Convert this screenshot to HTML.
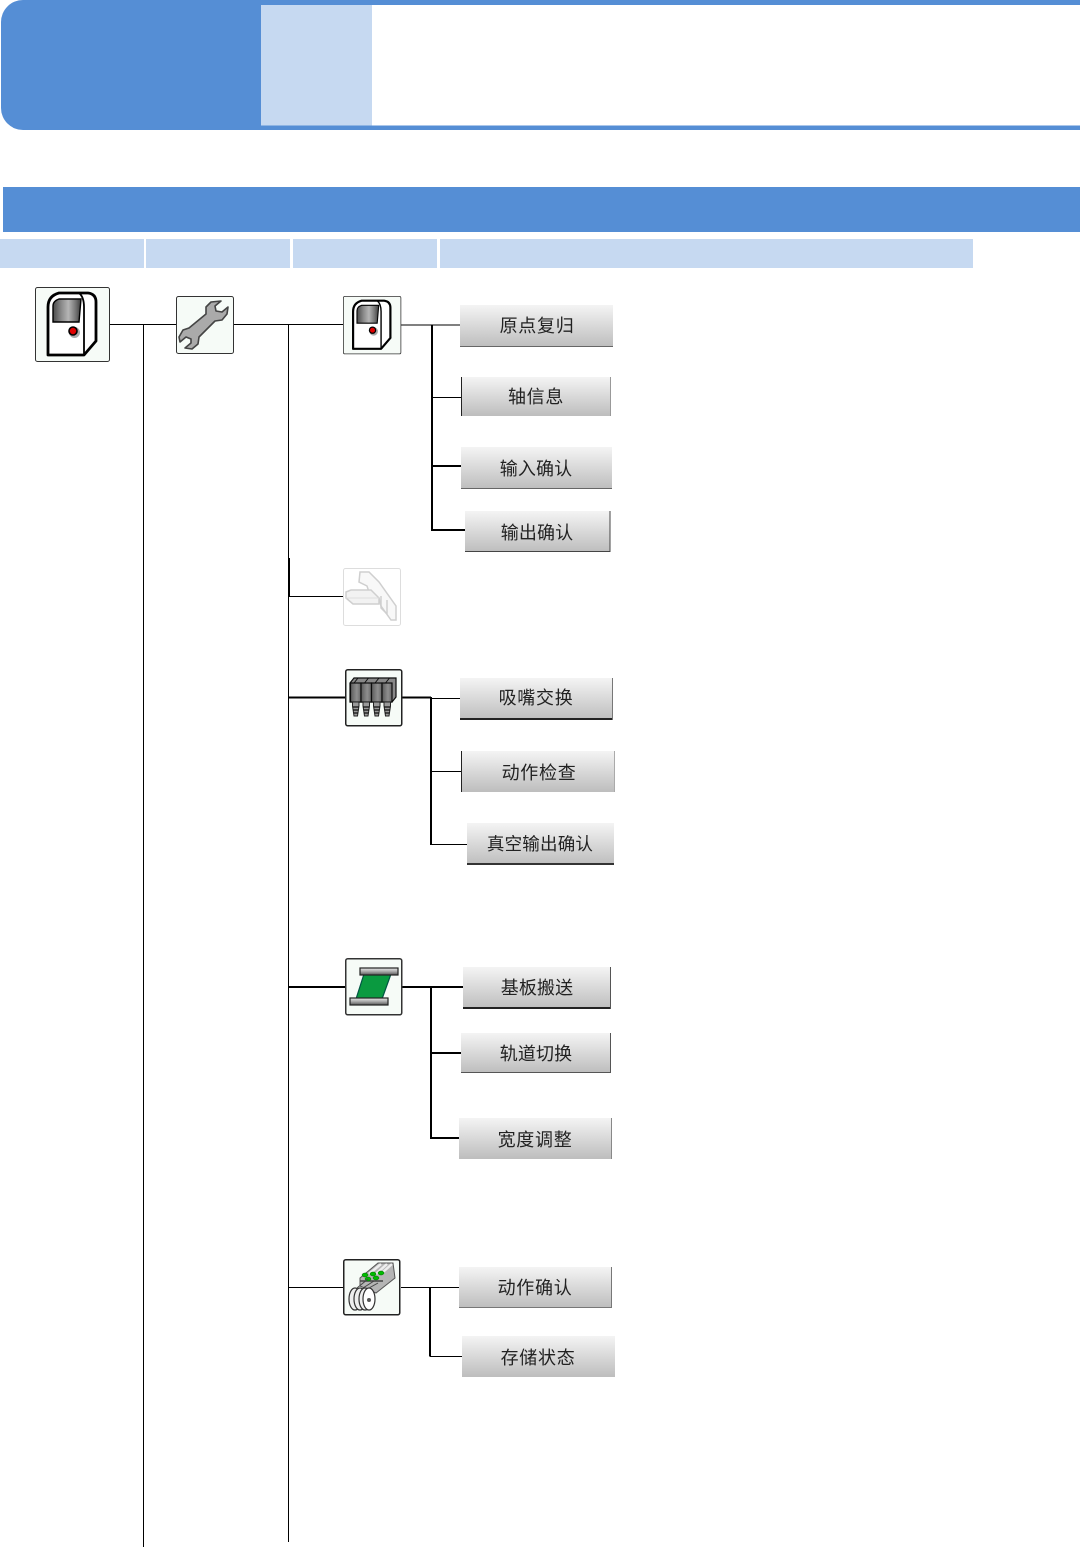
<!DOCTYPE html>
<html lang="zh">
<head>
<meta charset="utf-8">
<title>Diagram</title>
<style>
html,body{margin:0;padding:0;background:#fff}
svg{display:block}
text{font-family:"Liberation Sans","Noto Sans CJK SC","WenQuanYi Zen Hei",sans-serif;font-size:18px;fill:#222;text-anchor:middle;letter-spacing:.7px}
text.n{letter-spacing:.1px}
text.s{font-size:17.500px;letter-spacing:.2px}
</style>
</head>
<body>
<svg width="1080" height="1547" viewBox="0 0 1080 1547" xmlns="http://www.w3.org/2000/svg">
<defs>
<linearGradient id="btn" x1="0" y1="0" x2="0" y2="1"><stop offset="0" stop-color="#f4f4f4"/><stop offset=".15" stop-color="#ececec"/><stop offset="1" stop-color="#bdbdbd"/></linearGradient>
<linearGradient id="scr" x1="0" y1="0" x2="1" y2="0"><stop offset="0" stop-color="#4a4a4a"/><stop offset=".3" stop-color="#8a8a8a"/><stop offset=".55" stop-color="#b5b5b5"/><stop offset=".8" stop-color="#777"/><stop offset="1" stop-color="#3c3c3c"/></linearGradient>
<linearGradient id="noz" x1="0" y1="0" x2="1" y2="0"><stop offset="0" stop-color="#5a5a5a"/><stop offset=".6" stop-color="#8f8f8f"/><stop offset="1" stop-color="#666"/></linearGradient>
<linearGradient id="bar" x1="0" y1="0" x2="0" y2="1"><stop offset="0" stop-color="#e8e8e8"/><stop offset=".5" stop-color="#aaa"/><stop offset="1" stop-color="#555"/></linearGradient>
<filter id="soft" x="-5%" y="-5%" width="110%" height="110%"><feGaussianBlur stdDeviation=".35"/></filter>
<g id="machine">
<rect x=".5" y=".5" width="74" height="74" rx="2" fill="#f6fbf7" stroke="#333"/>
<path d="M13 68V20Q13 9 24 6H53Q61 7 61 15V54L49 68Z" fill="#fff" stroke="#000" stroke-width="2.800" stroke-linejoin="round"/>
<path d="M49 68V20Q49 10 44 6M49 68L61 54" fill="none" stroke="#000" stroke-width="1.800"/>
<path d="M18 35V19Q18 14 24 12H46L44 35Z" fill="url(#scr)" stroke="#000" stroke-width="1.400"/>
<circle cx="39.500" cy="45.500" r="5.500" fill="#aaa"/>
<circle cx="38" cy="44" r="4" fill="#e00000" stroke="#000" stroke-width="1.600"/>
</g>
</defs>

<!-- header -->
<path d="M261 0H23A22 22 0 0 0 1 22V108A22 22 0 0 0 23 130H261Z" fill="#558ed5"/>
<rect x="260" y="0" width="820" height="5" fill="#558ed5"/>
<rect x="260" y="125.500" width="820" height="4.500" fill="#558ed5"/>
<rect x="261" y="5" width="111" height="120.500" fill="#c6d9f1"/>
<rect x="3" y="187" width="1077" height="45" fill="#558ed5"/>
<rect x="0" y="239" width="144" height="29" fill="#c6d9f1"/>
<rect x="146" y="239" width="144" height="29" fill="#c6d9f1"/>
<rect x="293" y="239" width="144" height="29" fill="#c6d9f1"/>
<rect x="440" y="239" width="533" height="29" fill="#c6d9f1"/>

<!-- thin connectors -->
<g stroke="#000" stroke-width="1" fill="none">
<path d="M143.500 324V1547M288.500 324V1542"/>
<path d="M110 324.500H176M234 324.500H343"/>
<path d="M401 325H460M432 397.500H461"/>
<path d="M289 596.500H343"/>
<path d="M430 698.500H460M431 771.500H461M431 844.500H467"/>
<path d="M289 1287.500H343M401 1287.500H459M430 1356.500H462"/>
</g>
<!-- thick connectors -->
<g stroke="#000" stroke-width="2" fill="none">
<path d="M432 325V530H465M432 466H461"/>
<path d="M289 558V597"/>
<path d="M289 697.500H345M402 697.500H431M431 697V845"/>
<path d="M289 987H345M402 987H463M431 987V1138H459M431 1053H461"/>
<path d="M430 1287V1356.500"/>
</g>

<!-- buttons -->
<g>
<rect x="460" y="305" width="153" height="42" fill="url(#btn)"/><path d="M460 346.500H613" stroke="#666"/>
<rect x="461" y="377" width="150" height="39" fill="url(#btn)"/><path d="M461.500 377V416" stroke="#222"/><path d="M610.500 377V416" stroke="#999"/>
<rect x="461" y="447" width="151" height="42" fill="url(#btn)"/><path d="M461 488.500H612" stroke="#666"/>
<rect x="465" y="511" width="145.500" height="41" fill="url(#btn)"/><path d="M465 551.500H610.500M610 511V552" stroke="#444"/>
<rect x="460" y="678" width="153" height="42" fill="url(#btn)"/><path d="M460 719H613" stroke="#222" stroke-width="2"/><path d="M612.500 678V720" stroke="#777"/>
<rect x="461" y="751" width="154" height="41" fill="url(#btn)"/><path d="M461.500 751V792" stroke="#222"/><path d="M614.500 751V792" stroke="#aaa"/>
<rect x="467" y="823" width="147" height="42" fill="url(#btn)"/><path d="M467 864H614" stroke="#333" stroke-width="2"/>
<rect x="463" y="967" width="148" height="42" fill="url(#btn)"/><path d="M463 1008H611" stroke="#222" stroke-width="2"/><path d="M610.500 967V1009" stroke="#555"/>
<rect x="461" y="1033" width="150" height="40" fill="url(#btn)"/><path d="M461 1072.500H611M610.500 1033V1073" stroke="#555"/>
<rect x="459" y="1118" width="153" height="41" fill="url(#btn)"/><path d="M611.500 1118V1159" stroke="#888"/>
<rect x="459" y="1267" width="153" height="41" fill="url(#btn)"/><path d="M459 1307.500H612M611.500 1267V1308" stroke="#777"/>
<rect x="462" y="1336" width="153" height="41" fill="url(#btn)"/>
</g>
<g>
<text x="537" y="332">原点复归</text>
<text x="536" y="403">轴信息</text>
<text class="n" x="536" y="475">输入确认</text>
<text class="n" x="537" y="539">输出确认</text>
<text x="536" y="704">吸嘴交换</text>
<text x="539" y="779">动作检查</text>
<text class="s" x="540" y="850">真空输出确认</text>
<text class="n" x="537" y="994">基板搬送</text>
<text class="n" x="536" y="1060">轨道切换</text>
<text x="535" y="1146">宽度调整</text>
<text x="535" y="1294">动作确认</text>
<text x="538" y="1364">存储状态</text>
</g>

<!-- machine icons -->
<use href="#machine" transform="translate(35 287)"/>
<use href="#machine" transform="translate(343 296) scale(.777)"/>

<!-- wrench -->
<g transform="translate(176 296)">
<rect x=".5" y=".5" width="57" height="57" rx="2" fill="#f6fbf7" stroke="#333"/>
<path d="M45 5L35 6 30 11 30 18 13 32 7 34 3 41 4 46 10 41 15 43 15 47 9 52 16 53 22 48 23 41 39 25 46 24 51 18 52 11 46 16 40 15 39 10Z" fill="#aaa" stroke="#444" stroke-width="1.600" stroke-linejoin="round"/>
</g>

<!-- disabled icon -->
<g transform="translate(343 568)" filter="url(#soft)">
<rect x=".5" y=".5" width="57" height="57" rx="2" fill="#fff" stroke="#ddd"/>
<path d="M17 4L26 4 36 14 53 38 53 52 48 52 38 38 36 30 26 24 24 18 16 14Z" fill="#f8f8f8" stroke="#cfcfcf" stroke-width="1.500"/>
<path d="M3 24L8 22H28L36 30V36H10L3 30Z" fill="#f2f2f2" stroke="#cfcfcf" stroke-width="1.500"/>
<path d="M3 30H36" stroke="#ddd" fill="none"/>
<path d="M38 28V40L44 46V32" fill="none" stroke="#cfcfcf" stroke-width="1.500"/>
</g>

<!-- nozzle icon -->
<g transform="translate(345 669)">
<rect x=".75" y=".75" width="56" height="56" rx="2" fill="#f6fbf7" stroke="#222" stroke-width="1.500"/>
<g filter="url(#soft)">
<path d="M5 14L9 9H51L51 28 47 33H5Z" fill="#888" stroke="#111" stroke-width="1.200"/>
<g stroke="#111" fill="url(#noz)" stroke-width="1.200">
<rect x="5.500" y="14" width="10.500" height="19"/><rect x="16" y="14" width="10.500" height="19"/><rect x="26.500" y="14" width="10.500" height="19"/><rect x="37" y="14" width="10" height="19"/>
</g>
<path d="M9 14L13 9M19.500 14L23.500 9M30 14L34 9M40.500 14L44.500 9" stroke="#111" fill="none"/>
<g fill="#999" stroke="#222">
<path d="M7.500 33H14V37L12.500 47H9L7.500 37Z"/>
<path d="M18 33H24.500V37L23 47H19.500L18 37Z"/>
<path d="M28.500 33H35V37L33.500 47H30L28.500 37Z"/>
<path d="M39 33H45.500V37L44 47H40.500L39 37Z"/>
</g>
<path d="M7.500 38H14M8 41H13.500M8.500 44H13M18 38H24.500M18.500 41H24M19 44H23.500M28.500 38H35M29 41H34.500M29.500 44H34M39 38H45.500M39.500 41H45M40 44H44.500" stroke="#111" stroke-width="1.200" fill="none"/>
</g>
</g>

<!-- board icon -->
<g transform="translate(345 958)">
<rect x=".75" y=".75" width="56" height="56" rx="2" fill="#f6fbf7" stroke="#333" stroke-width="1.500"/>
<path d="M19 16H46L37 41H11Z" fill="#0a9a40" stroke="#054" stroke-width="1.200"/>
<rect x="15" y="10" width="38" height="7" fill="url(#bar)" stroke="#222" stroke-width="1.200"/>
<rect x="5" y="40" width="38" height="7" fill="url(#bar)" stroke="#222" stroke-width="1.200"/>
</g>

<!-- feeder icon -->
<g transform="translate(343 1259)">
<rect x=".75" y=".75" width="56" height="55" rx="2" fill="#f6fbf7" stroke="#222" stroke-width="1.500"/>
<g filter="url(#soft)">
<path d="M17 19L35 4H50L52 19 33 34 17 27Z" fill="#b5b5b5" stroke="#555"/>
<path d="M26 15L38 5M33 15L44 5M40 13L49 5" stroke="#eee" stroke-width="2.500" fill="none"/>
<path d="M17 22H40" stroke="#444" stroke-width="1.500" fill="none"/>
<g fill="#0b0" stroke="#060" stroke-width=".5"><ellipse cx="22" cy="16" rx="3" ry="2"/><ellipse cx="30" cy="15" rx="3" ry="2"/><ellipse cx="38" cy="14" rx="3" ry="2"/><ellipse cx="25" cy="20" rx="3" ry="2"/><ellipse cx="33" cy="19" rx="3" ry="2"/></g>
<g stroke="#333" fill="#eee" stroke-width="1.200">
<ellipse cx="12" cy="40" rx="6" ry="11"/><ellipse cx="17" cy="40" rx="6" ry="11"/><ellipse cx="22" cy="40" rx="6" ry="11"/><ellipse cx="26" cy="40" rx="6" ry="11" fill="#fff"/>
</g>
<path d="M14 29L25 20M20 29L31 22M26 29L35 24" stroke="#444" fill="none"/>
<circle cx="26" cy="41" r="2" fill="#555"/>
</g>
</g>
</svg>
</body>
</html>
